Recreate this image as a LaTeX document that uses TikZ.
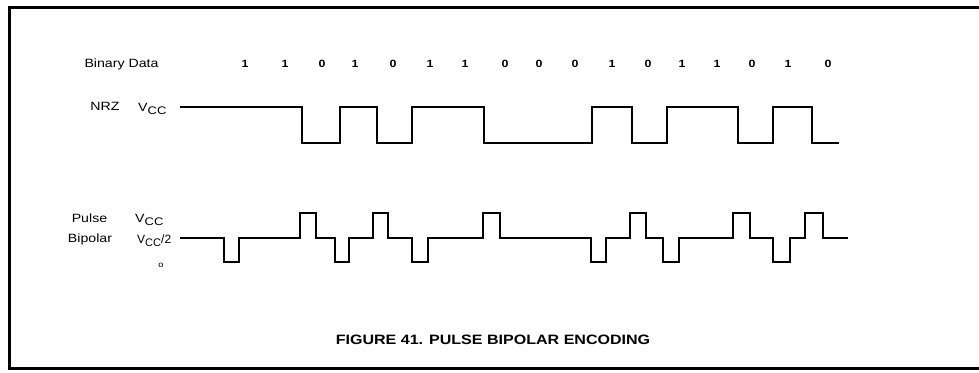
\documentclass[tikz,border=0pt]{standalone}
\usepackage{fontspec}
\setmainfont{Liberation Sans}
\newfontfamily\labfont[FakeStretch=1.18]{Liberation Sans}
\newcommand{\subcc}{\raisebox{-3.5pt}{\fontsize{11}{12}\selectfont CC}}
\begin{document}
\begin{tikzpicture}[x=1pt,y=-1pt,
  lab/.style={font=\labfont\fontsize{12}{14}\selectfont, inner sep=0pt},
  bitlab/.style={font=\labfont\bfseries\fontsize{10.5}{12}\selectfont, inner sep=0pt},
  captext/.style={font=\labfont\bfseries\fontsize{13.6}{16}\selectfont, inner sep=0pt},
  wave/.style={line width=2.6pt, line join=miter, line cap=butt},
  boxframe/.style={line width=3pt}]
\useasboundingbox (0,0) rectangle (979,372);
% frame
\draw[boxframe] (979,7) -- (9.5,7) -- (9.5,368) -- (979,368);
% labels
\node[lab] (bd) at (121.5,64) {Binary Data};
\node[lab] (nrz) at (105,106) {NRZ};
\node[lab, anchor=base west] (vcc1) at (138,111) {V\subcc};
\node[lab] (pulse) at (89.5,218) {Pulse};
\node[lab] (bip) at (90,239) {Bipolar};
\node[lab, anchor=base west] (vcc2) at (135,222) {V\subcc};
\node[lab, anchor=base west] (vcc3) at (137,243) {\scalebox{0.85}[1]{V\subcc/2}};
\node[font=\labfont\fontsize{8}{9}\selectfont, inner sep=0pt] (zero) at (161,265) {o};
% data bits
\foreach \x/\b [count=\i] in {245/1,285/1,322/0,355/1,393/0,430/1,465/1,505/0,539/0,575/0,612/1,648/0,682/1,717/1,752/0,788/1,828/0}
  \node[bitlab] (b\i) at (\x,64) {\b};
% NRZ waveform
\draw[wave] (180,107) -- (302,107) -- (302,143) -- (340,143) -- (340,107)
  -- (377,107) -- (377,143) -- (412,143) -- (412,107) -- (484,107)
  -- (484,143) -- (592,143) -- (592,107) -- (632,107) -- (632,143)
  -- (667,143) -- (667,107) -- (738,107) -- (738,143) -- (773,143)
  -- (773,107) -- (812,107) -- (812,143) -- (839,143);
% Pulse bipolar waveform
\draw[wave] (180,238) -- (224,238) -- (224,262) -- (239,262) -- (239,238)
  -- (300,238) -- (300,213) -- (316,213) -- (316,238) -- (335,238)
  -- (335,262) -- (349,262) -- (349,238) -- (373,238) -- (373,213)
  -- (388,213) -- (388,238) -- (412,238) -- (412,262) -- (428,262)
  -- (428,238) -- (483,238) -- (483,213) -- (500,213) -- (500,238)
  -- (591,238) -- (591,262) -- (606,262) -- (606,238) -- (630,238)
  -- (630,213) -- (646,213) -- (646,238) -- (663,238) -- (663,262)
  -- (679,262) -- (679,238) -- (733,238) -- (733,213) -- (750,213)
  -- (750,238) -- (773,238) -- (773,262) -- (790,262) -- (790,238)
  -- (805,238) -- (805,213) -- (823,213) -- (823,238) -- (848,238);
% caption
\node[captext] (caption) at (493,340) {FIGURE 41. PULSE BIPOLAR ENCODING};
\end{tikzpicture}
\end{document}
